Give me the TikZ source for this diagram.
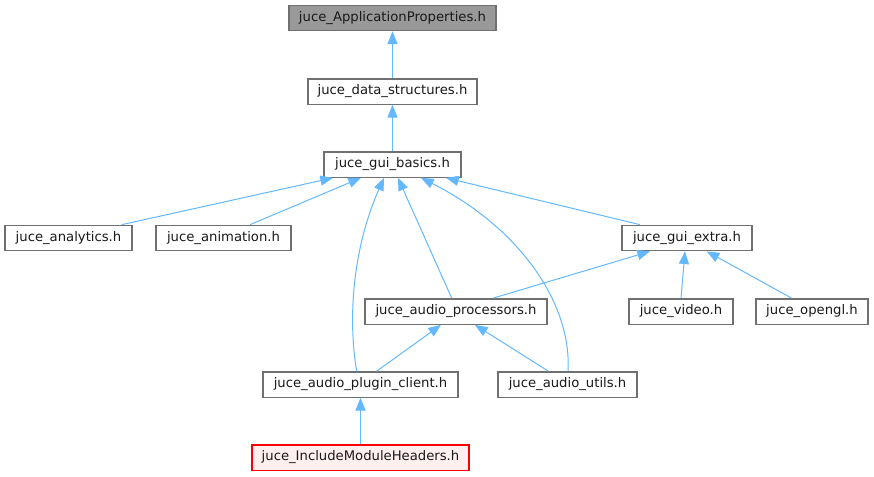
\documentclass[tikz,border=0pt]{standalone}
\usepackage{fontspec}
\setmainfont{DejaVu Sans}
\usetikzlibrary{arrows.meta,calc}
\definecolor{edgec}{HTML}{63B8FF}
\definecolor{bord}{HTML}{707070}
\definecolor{topfill}{HTML}{999999}
\definecolor{redfill}{HTML}{FFF0F0}
\begin{document}
\begin{tikzpicture}[x=0.75pt,y=-0.75pt,
  box/.style={draw=bord, fill=white, line width=1pt, minimum height=19pt, inner sep=0pt, font=\fontsize{9.9}{12}\selectfont, text=black!90},
  edge/.style={draw=edgec, line width=0.75pt, arrows={Triangle[length=9.5pt,width=7.5pt]-}}]
\useasboundingbox (0,0) rectangle (874,476);
\node[box, fill=topfill, minimum width=155.25pt] (ap) at (392.5,18) {juce\_ApplicationProperties.h};
\node[box, minimum width=126.75pt] (ds) at (392.5,91.5) {juce\_data\_structures.h};
\node[box, minimum width=102.75pt] (gb) at (392.5,164.5) {juce\_gui\_basics.h};
\node[box, minimum width=95.25pt] (an) at (68.5,238) {juce\_analytics.h};
\node[box, minimum width=101.25pt] (am) at (223.5,238) {juce\_animation.h};
\node[box, minimum width=97.5pt] (ge) at (687,238) {juce\_gui\_extra.h};
\node[box, minimum width=136.5pt] (apr) at (456,311.5) {juce\_audio\_processors.h};
\node[box, minimum width=78pt] (vi) at (681,311.5) {juce\_video.h};
\node[box, minimum width=84pt] (og) at (812,311.5) {juce\_opengl.h};
\node[box, minimum width=146.25pt] (pc) at (360.5,384.5) {juce\_audio\_plugin\_client.h};
\node[box, minimum width=104.25pt] (au) at (567.5,384.5) {juce\_audio\_utils.h};
\node[box, draw=red, fill=redfill, minimum width=162.75pt] (im) at (360.5,457.5) {juce\_IncludeModuleHeaders.h};
\draw[edge] (ap.south) -- (ds.north);
\draw[edge] (ds.south) -- (gb.north);
\draw[edge] ($(gb.south)+(-59.5,0)$) -- ($(an.north)+(53.2,0)$);
\draw[edge] ($(gb.south)+(-31.5,0)$) -- ($(am.north)+(26.5,0)$);
\draw[edge] ($(gb.south)+(-8.5,0)$) .. controls (352,250) and (348,320) .. ($(pc.north)+(-3.8,0)$);
\draw[edge] ($(gb.south)+(5.5,0)$) -- ($(apr.north)+(-4.3,0)$);
\draw[edge] ($(gb.south)+(28.5,0)$) .. controls (515,225) and (572,300) .. ($(au.north)+(0.5,0)$);
\draw[edge] ($(gb.south)+(53.5,0)$) -- ($(ge.north)+(-47,0)$);
\draw[edge] ($(ge.south)+(-37,0)$) -- ($(apr.north)+(37,0)$);
\draw[edge] ($(ge.south)+(-2,0)$) -- (vi.north);
\draw[edge] ($(ge.south)+(19.7,0)$) -- ($(og.north)+(-20.3,0)$);
\draw[edge] ($(apr.south)+(-15,0)$) -- ($(pc.north)+(16.2,0)$);
\draw[edge] ($(apr.south)+(19,0)$) -- ($(au.north)+(-19.2,0)$);
\draw[edge] (pc.south) -- (im.north);
\end{tikzpicture}
\end{document}
